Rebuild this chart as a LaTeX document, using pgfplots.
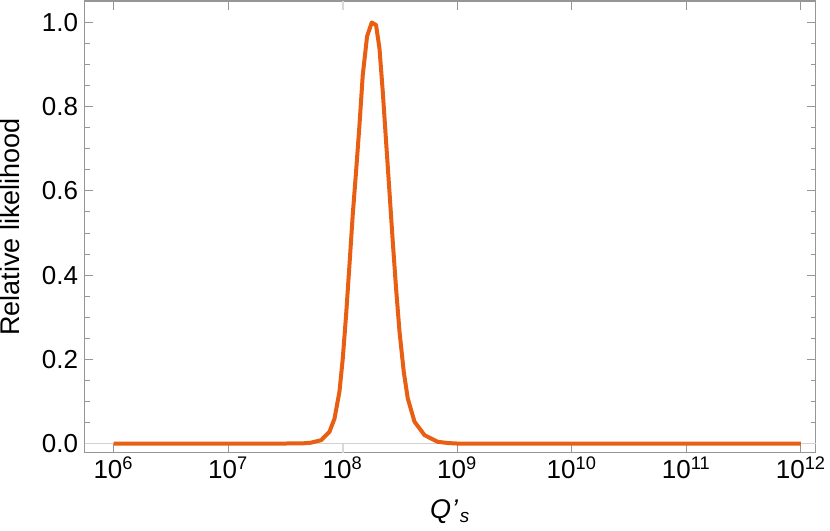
\documentclass[border=0pt]{standalone}
\usepackage{fontspec}
\setmainfont{Liberation Sans}
\usepackage{pgfplots}
\pgfplotsset{compat=1.18}
\definecolor{curve}{RGB}{232,94,18}
\definecolor{framegray}{RGB}{150,150,150}
\begin{document}
\begin{tikzpicture}
\begin{axis}[
  scale only axis, width=365.5pt, height=225.8pt,
  xmode=log, log basis x=10,
  xmin=5.58e5, xmax=1.35e12,
  ymin=-0.022, ymax=1.051,
  axis line style={framegray, line width=0.6pt},
  tick style={framegray, line width=0.5pt},
  major tick length=4.5pt, minor tick length=2.5pt,
  tick align=inside,
  xtick={1e6,1e7,1e8,1e9,1e10,1e11,1e12},
  xticklabels={10\textsuperscript{6},10\textsuperscript{7},10\textsuperscript{8},10\textsuperscript{9},10\textsuperscript{10},10\textsuperscript{11},10\textsuperscript{12}},
  ytick={0,0.2,0.4,0.6,0.8,1.0}, minor y tick num=3,
  /pgf/number format/fixed, /pgf/number format/fixed zerofill, /pgf/number format/precision=1, /pgf/number format/assume math mode=true,
  ticklabel style={font=\fontsize{13}{15}\selectfont, text=black},
  xticklabel style={inner sep=2pt},
  yticklabel style={inner sep=3pt},
  extra x ticks={1e8},
  extra x tick labels={},
  extra x tick style={major tick length=4.5pt, tick style={gray!30, line width=1pt}},
  ylabel={Relative likelihood},
  ylabel style={font=\fontsize{13.5}{15}\selectfont, at={(axis description cs:-0.102,0.5)}, anchor=center, inner sep=0pt},
  xlabel={\textit{Q\kern0.3pt'\kern1pt\textsubscript{s}}\rule[-6pt]{0pt}{1pt}},
  xlabel style={font=\fontsize{13.5}{15}\selectfont, at={(axis description cs:0.5,0)}, anchor=north, yshift=-23pt, inner sep=0pt},
  clip=true,
]
\addplot[draw=gray!35, line width=0.6pt] coordinates {(5.58e5,0) (1.35e12,0)};
\addplot[curve, line width=2pt, line join=round] coordinates {
(1e6,0) (1e7,0) (3e7,0) (4.5e7,0.0005)
(5.27e7,0.002) (6.49e7,0.008) (7.67e7,0.028) (8.48e7,0.059) (9.37e7,0.123)
(1.002e8,0.202) (1.071e8,0.305) (1.146e8,0.424) (1.224e8,0.543) (1.309e8,0.646)
(1.402e8,0.757) (1.497e8,0.875) (1.633e8,0.967) (1.795e8,1.0) (1.955e8,0.994)
(2.094e8,0.939) (2.238e8,0.836) (2.393e8,0.717) (2.561e8,0.598) (2.737e8,0.479)
(2.926e8,0.368) (3.133e8,0.266) (3.415e8,0.170) (3.701e8,0.107) (4.233e8,0.052)
(5.18e8,0.020) (6.76e8,0.004) (8.5e8,0.001) (1e9,0) (1e10,0) (1e11,0) (1e12,0)
};
\end{axis}
\end{tikzpicture}
\end{document}
